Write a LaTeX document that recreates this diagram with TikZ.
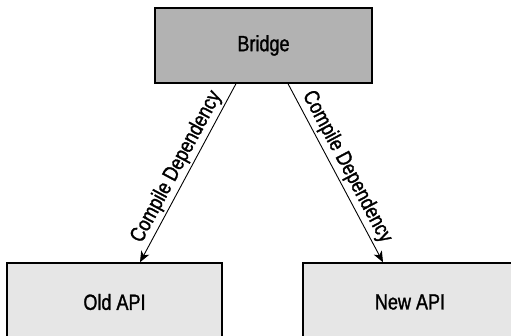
\documentclass[tikz,border=0pt]{standalone}
\usepackage{fontspec}
\setmainfont{Liberation Sans}[FakeStretch=0.82,FakeBold=1.3]
\usetikzlibrary{arrows.meta}
\definecolor{bridgegray}{RGB}{178,178,178}
\definecolor{apigray}{RGB}{230,230,230}
\begin{document}
\begin{tikzpicture}[x=1pt,y=-1pt,
  box/.style={draw=black,line width=1.4pt,inner sep=0pt,font=\fontsize{22}{25}\selectfont},
  dep/.style={-{Stealth[length=11pt,width=9pt,inset=3pt]},line width=0.9pt},
  deplabel/.style={sloped,above,inner sep=2.5pt,font=\fontsize{21.5}{25}\selectfont}]
\useasboundingbox (0,0) rectangle (511,336);
\clip (0,0) rectangle (511,336);
\node[box,fill=bridgegray,minimum width=217pt,minimum height=75pt] (bridge) at (263.5,45.5) {Bridge};
\node[box,fill=apigray,minimum width=215pt,minimum height=78pt] (old) at (114.5,302) {Old API};
\node[box,fill=apigray,minimum width=214pt,minimum height=78pt] (new) at (410,302) {New API};
\draw[dep] ([xshift=-27.5pt]bridge.south) -- node[deplabel] {Compile Dependency} ([xshift=25.5pt]old.north);
\draw[dep] ([xshift=24.5pt]bridge.south) -- node[deplabel] {Compile Dependency} ([xshift=-27pt]new.north);
\end{tikzpicture}
\end{document}
